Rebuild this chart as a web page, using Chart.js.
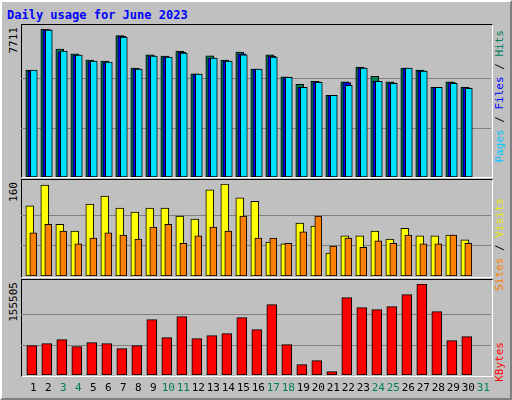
<!DOCTYPE html>
<html>
<head>
<meta charset="utf-8">
<script src="https://cdn.jsdelivr.net/npm/chart.js@4/dist/chart.umd.min.js"></script>
<style>
  body { margin: 0; background: #c0c0c0; }
  #page { position: relative; width: 508px; height: 396px; border-top: 2px solid #fff; border-left: 2px solid #fff;
          border-bottom: 2px solid #808080; border-right: 2px solid #808080; background: #c0c0c0;
          font-family: 'DejaVu Sans Mono', monospace; font-size: 11px; }
  .frame { position: absolute; left: 19px; width: 470px; border-top: 1px solid #000; border-left: 1px solid #000;
           border-bottom: 1px solid #fff; border-right: 1px solid #fff; }
  canvas { position: absolute; }
  .vlab { position: absolute; writing-mode: vertical-rl; transform: rotate(180deg); white-space: nowrap; line-height: 12px; }
  #title { position: absolute; left: 5px; top: 6px; color: #0000ff; font-weight: bold; font-size: 12px; }
</style>
</head>
<body>
<div id="page">
  <div id="title">Daily usage for June 2023</div>
  <div class="frame" style="top:22px;height:152px"></div>
  <div class="frame" style="top:177px;height:97px"></div>
  <div class="frame" style="top:277px;height:96px"></div>
  <canvas id="c1" width="470" height="148" style="left:19px;top:27px"></canvas>
  <canvas id="c2" width="470" height="92" style="left:19px;top:182px"></canvas>
  <canvas id="c3" width="470" height="111" style="left:19px;top:282px"></canvas>
  <div class="vlab" style="left:6px;top:25px">7711</div>
  <div class="vlab" style="left:6px;top:180px">160</div>
  <div class="vlab" style="left:6px;top:280px">155505</div>
  <div class="vlab" style="left:492px;top:28px"><span style="color:#00c8ff">Pages</span> / <span style="color:#0000ff">Files</span> / <span style="color:#00805c">Hits</span></div>
  <div class="vlab" style="left:492px;top:196px"><span style="color:#ff8000">Sites</span> / <span style="color:#e8e800">Visits</span></div>
  <div class="vlab" style="left:492px;top:340px;color:#ff0000">KBytes</div>
</div>
<script>
const days = [1,2,3,4,5,6,7,8,9,10,11,12,13,14,15,16,17,18,19,20,21,22,23,24,25,26,27,28,29,30]
const dayLabels = ['1','2','3','4','5','6','7','8','9','10','11','12','13','14','15','16','17','18','19','20','21','22','23','24','25','26','27','28','29','30','31']
const weekend = ['3','4','10','11','17','18','24','25','31']

const hits  = [5565,7711,6664,6420,6089,6036,7362,5670,6368,6298,6560,5373,6315,6089,6507,5618,6368,5216,4833,4990,4257,4955,5722,5251,4955,5670,5565,4676,4955,4676]
const files = [5530,7676,6525,6350,6019,5967,7327,5635,6315,6246,6490,5356,6193,6036,6420,5618,6281,5181,4676,4955,4257,4920,5687,4990,4902,5670,5530,4676,4920,4641]
const pages = [5565,7659,6560,6350,6036,5984,7292,5618,6298,6246,6455,5356,6193,6036,6368,5618,6246,5199,4676,4937,4257,4780,5670,4990,4885,5670,5513,4676,4885,4623]
const visits = [122,158,90,78,125,139,118,111,118,118,104,99,150,160,136,130,59,56,92,87,40,70,70,78,64,83,70,70,71,63]
const sites  = [75,90,78,56,66,75,71,64,85,90,57,70,85,78,104,66,66,57,77,104,52,66,50,61,57,71,56,56,71,57]
const kbytes = [50125,53542,60378,48416,55251,53542,44998,50125,94554,63795,99680,62086,67213,70630,97971,77466,120186,51834,17658,24493,5696,132147,115059,111642,116768,137274,155505,108224,58669,65504]

const PX = 15 // pixels per day
const XMIN = 0.28, XMAX = XMIN + 470 / PX

// x axis shifted by a few pixels so overlapping bars sit side by side
function xAxis (shift) {
  return { type: 'linear', display: false, offset: false, bounds: 'ticks', min: XMIN - shift / PX, max: XMAX - shift / PX }
}

const gridLines = {
  id: 'gridLines',
  beforeDatasetsDraw (chart, args, opts) {
    const { ctx } = chart
    const y = chart.scales.y
    ctx.save()
    ctx.strokeStyle = '#808080'
    ctx.lineWidth = 1
    for (const f of [1 / 3, 2 / 3]) {
      const py = Math.round(y.getPixelForValue(opts.max * f)) + 0.5
      ctx.beginPath(); ctx.moveTo(0, py); ctx.lineTo(chart.width, py); ctx.stroke()
    }
    ctx.restore()
  }
}

const dayTicks = {
  id: 'dayTicks',
  afterDraw (chart) {
    const { ctx } = chart
    const x = chart.scales.x0
    ctx.save()
    ctx.font = '11px "DejaVu Sans Mono", monospace'
    ctx.textAlign = 'center'
    ctx.textBaseline = 'middle'
    dayLabels.forEach(l => {
      ctx.fillStyle = weekend.includes(l) ? '#00805c' : '#000000'
      ctx.fillText(l, x.getPixelForValue(Number(l)) + 1.5, chart.chartArea.bottom + 13)
    })
    ctx.restore()
  }
}

function panel (id, max, sets, plugins, padBottom) {
  const scales = { y: { display: false, min: 0, max: max } }
  sets.forEach(s => { scales[s.xAxisID] = xAxis(s.shift) })
  new Chart(document.getElementById(id), {
    type: 'bar',
    data: {
      labels: days,
      datasets: sets.map(s => ({
        data: s.data, xAxisID: s.xAxisID, backgroundColor: s.color,
        borderColor: '#000', borderWidth: 1, borderSkipped: false,
        barThickness: s.width, grouped: false, order: s.order
      }))
    },
    options: {
      responsive: false, animation: false, events: [],
      layout: { padding: { bottom: padBottom || 0 } },
      scales,
      plugins: { legend: { display: false }, tooltip: { enabled: false }, gridLines: { max } }
    },
    plugins: [gridLines].concat(plugins || [])
  })
}

panel('c1', 7711, [
  { data: hits, xAxisID: 'xh', shift: -2, width: 8, color: '#00805c', order: 2 },
  { data: files, xAxisID: 'xf', shift: 0, width: 8, color: '#0000ff', order: 1 },
  { data: pages, xAxisID: 'xp', shift: 2, width: 7, color: '#00e0ff', order: 0 }
])

panel('c2', 160, [
  { data: visits, xAxisID: 'xv', shift: -2, width: 8, color: '#ffff00', order: 1 },
  { data: sites, xAxisID: 'xs', shift: 1.5, width: 7, color: '#ff8000', order: 0 }
])

panel('c3', 155505, [
  { data: kbytes, xAxisID: 'x0', shift: 0, width: 10, color: '#ff0000', order: 0 }
], [dayTicks], 20)
</script>
</body>
</html>
